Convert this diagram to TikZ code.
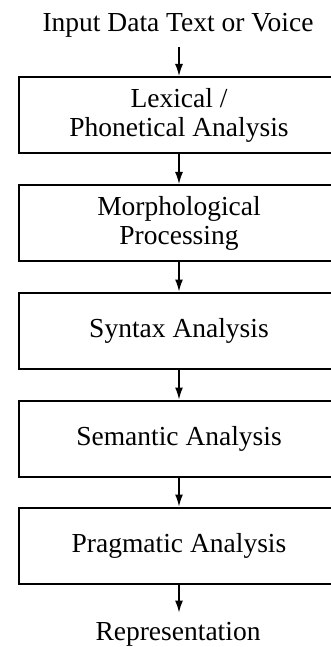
\documentclass[tikz,border=0pt]{standalone}
\usepackage{fontspec}
\setmainfont{Liberation Serif}
\usetikzlibrary{arrows.meta}
\newcommand{\flowfont}{\fontsize{27.5}{29}\selectfont}
\begin{document}
\begin{tikzpicture}[x=1pt,y=-1pt,
  stagebox/.style={draw, line width=2pt, minimum width=320pt, minimum height=76pt,
    align=center, inner sep=0pt, font=\flowfont},
  endlabel/.style={inner sep=0pt, font=\flowfont},
  conn/.style={line width=1.4pt, -{Latex[length=12pt,width=8pt]}}]
\useasboundingbox (0,0) rectangle (330,647);

\node[endlabel, anchor=base] (in) at (178,32) {Input Data Text or Voice};
\node[stagebox] (s1) at (179,115) {Lexical /\\Phonetical Analysis};
\node[stagebox] (s2) at (179,223) {Morphological\\Processing};
\node[stagebox] (s3) at (179,330.5) {Syntax Analysis};
\node[stagebox] (s4) at (179,438.5) {Semantic Analysis};
\node[stagebox] (s5) at (179,545.5) {Pragmatic Analysis};
\node[endlabel, anchor=base] (out) at (178,640) {Representation};

\draw[conn, shorten <=9pt] (in.south -| s1.north) -- (s1.north);
\draw[conn] (s1.south) -- (s2.north);
\draw[conn] (s2.south) -- (s3.north);
\draw[conn] (s3.south) -- (s4.north);
\draw[conn] (s4.south) -- (s5.north);
\draw[conn, shorten >=9pt] (s5.south) -- (s5.south |- out.north);
\end{tikzpicture}
\end{document}
